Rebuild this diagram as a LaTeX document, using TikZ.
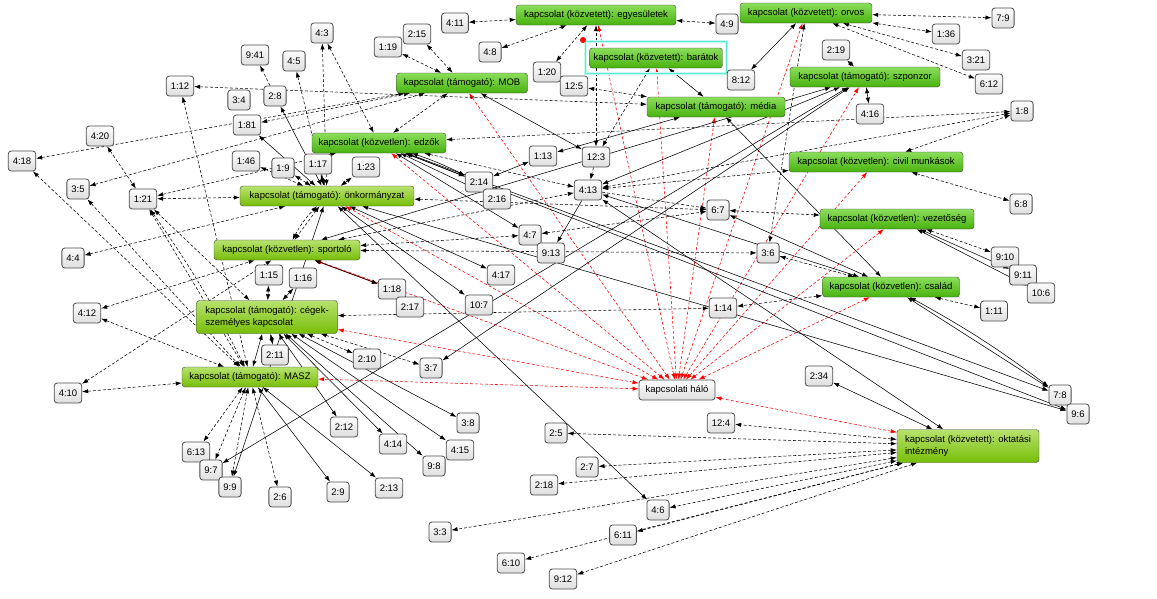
\documentclass[tikz,border=0pt]{standalone}
\usepackage{fontspec}
\setmainfont{Liberation Sans}
\usetikzlibrary{arrows.meta,backgrounds}
\definecolor{gtop}{RGB}{140,222,92}
\definecolor{gbot}{RGB}{72,178,14}
\definecolor{ytop}{RGB}{184,226,110}
\definecolor{ybot}{RGB}{118,190,8}
\definecolor{ltop}{RGB}{252,252,252}
\definecolor{lbot}{RGB}{222,222,222}
\definecolor{hlc}{RGB}{90,235,210}
\definecolor{hlg}{RGB}{200,250,240}
\newcommand\fsz{\fontsize{9.5}{11.5}\selectfont}
\begin{document}
\begin{tikzpicture}[x=1pt,y=-1pt,
  >={Latex[length=6pt,width=4.3pt]},
  gn/.style={draw=black!75, rounded corners=3pt, top color=gtop, bottom color=gbot,
    minimum height=20pt, inner xsep=4pt, inner ysep=2pt, font=\fsz},
  yn/.style={gn, top color=ytop, bottom color=ybot},
  sn/.style={draw=black!70, line width=0.8pt, rounded corners=3pt, top color=ltop,
    bottom color=lbot, minimum height=20pt, minimum width=22pt, inner xsep=4.5pt, font=\fsz},
  lk/.style={<->, dash pattern=on 3pt off 2pt, line width=0.55pt},
  sk/.style={<->, line width=0.55pt},
  rk/.style={lk, red},
  rs/.style={sk, red, line width=0.8pt}]
\useasboundingbox (0,0) rectangle (1157,598);
% green nodes
\node[gn, minimum width=160pt] (egy) at (596,15) {kapcsolat (közvetett): egyesületek};
\node[gn, minimum width=132pt] (orv) at (806,13) {kapcsolat (közvetett): orvos};
\node[gn, minimum width=131pt] (bar) at (656,58) {kapcsolat (közvetett): barátok};
\node[gn, minimum width=150pt] (szp) at (865,77) {kapcsolat (támogató): szponzor};
\node[gn, minimum width=131pt] (mob) at (462,83) {kapcsolat (támogató): MOB};
\node[gn, minimum width=138pt] (med) at (716,107) {kapcsolat (támogató): média};
\node[gn, minimum width=134pt] (edz) at (379,143) {kapcsolat (közvetlen): edzők};
\node[gn, minimum width=174pt] (civ) at (876,162) {kapcsolat (közvetlen): civil munkások};
\node[yn, minimum width=174pt] (onk) at (327,196) {kapcsolat (támogató): önkormányzat};
\node[gn, minimum width=154pt] (vez) at (897,219) {kapcsolat (közvetlen): vezetőség};
\node[yn, minimum width=146pt] (spo) at (287,250) {kapcsolat (közvetlen): sportoló};
\node[gn, minimum width=137pt] (csa) at (891,287) {kapcsolat (közvetlen): család};
\node[yn, minimum width=141pt, minimum height=33pt, align=left] (ceg) at (267,317) {kapcsolat (támogató): cégek-\\személyes kapcsolat};
\node[yn, minimum width=136pt] (mas) at (250,377) {kapcsolat (támogató): MASZ};
\node[yn, minimum width=142pt, minimum height=33pt, align=left] (okt) at (968,446) {kapcsolat (közvetett): oktatási\\intézmény};
\node[sn, minimum width=76pt] (halo) at (677,390) {kapcsolati háló};
\draw[hlg, line width=3pt] ([shift={(-4,-6)}]bar.north west) rectangle ([shift={(4,5)}]bar.south east);
\draw[hlc, line width=1pt] ([shift={(-4,-6)}]bar.north west) rectangle ([shift={(4,5)}]bar.south east);
\fill[red] (583,40) circle (3pt);
% small nodes
\foreach \n/\p/\t in {
 q4x3/{322,33}/4:3, q9x41/{255,55}/9:41, q4x5/{294,61}/4:5, q1x19/{388,47}/1:19,
 q1x12/{180,86}/1:12, q3x4/{239,100}/3:4, q2x8/{275,96}/2:8, q1x81/{247,125}/1:81,
 q4x20/{100,136}/4:20, q4x18/{22,161}/4:18, q1x46/{246,161}/1:46, q1x9/{283,168}/1:9,
 q1x17/{318,164}/1:17, q1x23/{366,167}/1:23, q3x5/{78,189}/3:5, q1x21/{143,199}/1:21,
 q4x11/{455,23}/4:11, q2x15/{417,34}/2:15, q4x8/{490,52}/4:8, q1x20/{547,72}/1:20,
 q12x5/{574,86}/12:5, q4x9/{727,24}/4:9, q8x12/{741,80}/8:12, q1x13/{543,156}/1:13,
 q12x3/{596,157}/12:3, q2x14/{479,182}/2:14, q2x16/{497,199}/2:16, q4x13/{588,190}/4:13,
 q7x9/{1003,18}/7:9, q1x36/{946,34}/1:36, q2x19/{836,50}/2:19, q3x21/{976,60}/3:21,
 q6x12/{989,84}/6:12, q4x16/{870,114}/4:16, q1x8/{1022,111}/1:8, q4x4/{73,258}/4:4,
 q1x15/{269,275}/1:15, q1x16/{303,278}/1:16, q4x12/{87,313}/4:12, q1x18/{392,289}/1:18,
 q2x11/{275,355}/2:11, q2x10/{367,359}/2:10, q4x10/{68,393}/4:10, q4x7/{530,235}/4:7,
 q9x13/{551,253}/9:13, q6x7/{718,210}/6:7, q3x6/{768,253}/3:6, q4x17/{501,275}/4:17,
 q2x17/{410,307}/2:17, q10x7/{479,305}/10:7, q1x14/{723,308}/1:14, q3x7/{431,368}/3:7,
 q6x8/{1021,204}/6:8, q9x10/{1005,257}/9:10, q9x11/{1023,275}/9:11, q10x6/{1041,293}/10:6,
 q1x11/{994,311}/1:11, q2x34/{819,376}/2:34, q7x8/{1060,395}/7:8, q9x6/{1078,414}/9:6,
 q6x13/{196,452}/6:13, q9x7/{211,470}/9:7, q9x9/{230,487}/9:9, q2x6/{280,497}/2:6,
 q2x12/{344,427}/2:12, q2x9/{338,492}/2:9, q2x13/{389,488}/2:13, q4x14/{393,444}/4:14,
 q3x8/{468,423}/3:8, q4x15/{460,450}/4:15, q9x8/{434,466}/9:8, q2x5/{556,433}/2:5,
 q12x4/{721,423}/12:4, q2x7/{587,467}/2:7, q2x18/{544,485}/2:18, q4x6/{658,510}/4:6,
 q3x3/{440,532}/3:3, q6x11/{623,535}/6:11, q6x10/{511,563}/6:10, q9x12/{563,579}/9:12}
 {\node[sn] (\n) at (\p) {\t};}
\begin{scope}[on background layer]
\foreach \t in {egy,orv,bar,szp,mob,med,edz,civ,onk,vez,spo,csa,ceg,mas,okt}
  \draw[rk] (halo) -- (\t);
\draw[rs] (q1x18) -- (spo);
\foreach \a/\b in {q4x11/egy, q4x8/egy, egy/q4x9, egy/q1x20, q12x3/egy, q12x3/bar,
 q2x15/mob, q1x19/mob, q1x12/med, q4x18/mob, q1x81/mob, q3x5/mob, q4x20/q1x21,
 q1x12/mas, q4x5/onk, q4x3/onk, q4x3/edz, q1x46/onk, q1x9/onk, q1x23/onk, q1x21/onk,
 q1x21/edz, q1x21/mas, q1x21/ceg, q4x18/mas, q3x5/mas, q4x4/onk, q4x12/spo, q4x12/mas,
 q4x10/mas, q4x10/spo, onk/spo, ceg/q1x14, ceg/q2x10, ceg/q3x7, edz/q1x8, civ/q1x8,
 civ/q6x8, q4x13/q1x8, q4x13/civ, q12x5/med, mob/edz, edz/q4x13, orv/q7x9, orv/q1x36,
 orv/q3x21, orv/q6x12, orv/q3x6, csa/q1x11, csa/q1x14, q3x6/csa, vez/q6x7, vez/q9x10,
 q4x7/q6x7, spo/q3x6, spo/q4x7, spo/q4x13, onk/q6x7, mas/q2x6, mas/q6x13, mas/q9x7,
 mas/q9x9, okt/q12x4, okt/q2x5, okt/q2x7, okt/q2x18, okt/q4x6, okt/q3x3, okt/q6x11,
 okt/q6x10, okt/q9x12}
  \draw[lk] (\a) -- (\b);
\draw[lk] (q1x21) to[bend left=4] (mas);
\draw[lk] (spo) to[bend left=8] (onk);
\foreach \a/\b in {q2x8/onk, q1x17/onk, q1x81/onk, q3x7/szp, q9x7/szp, q9x9/onk,
 edz/q2x14, edz/q2x16, edz/q4x7, onk/q10x7, onk/q4x17, edz/q7x8, edz/q9x6, onk/q9x6,
 q4x16/szp, q2x19/szp, q2x14/q1x13, med/q1x13, mob/q12x3, q4x13/szp, q4x13/csa,
 q4x13/okt, q8x12/orv, med/bar, med/csa, csa/q7x8, q6x7/csa, vez/q9x11, vez/q10x6,
 spo/szp, ceg/mas, ceg/q2x12, ceg/q4x14, ceg/q4x15, ceg/q9x8, ceg/q3x8, mas/q2x13,
 mas/q2x9, onk/q4x6, okt/q2x34, q1x15/ceg, q1x16/ceg, q2x11/ceg, q1x18/spo}
  \draw[sk] (\a) -- (\b);
\draw[sk] (edz) to[bend left=4] (q2x14);
\draw[sk] (csa) to[bend left=4] (q7x8);
\draw[->, dash pattern=on 3pt off 2pt, line width=0.55pt] (q12x3) -- (q4x13);
\draw[->, dash pattern=on 3pt off 2pt, line width=0.55pt] (q2x8) -- (q9x41);
\draw[->, dash pattern=on 3pt off 2pt, line width=0.55pt] (q4x13) -- (q6x7);
\draw[->, line width=0.55pt] (q4x13) -- (q9x13);
\end{scope}
\end{tikzpicture}
\end{document}
